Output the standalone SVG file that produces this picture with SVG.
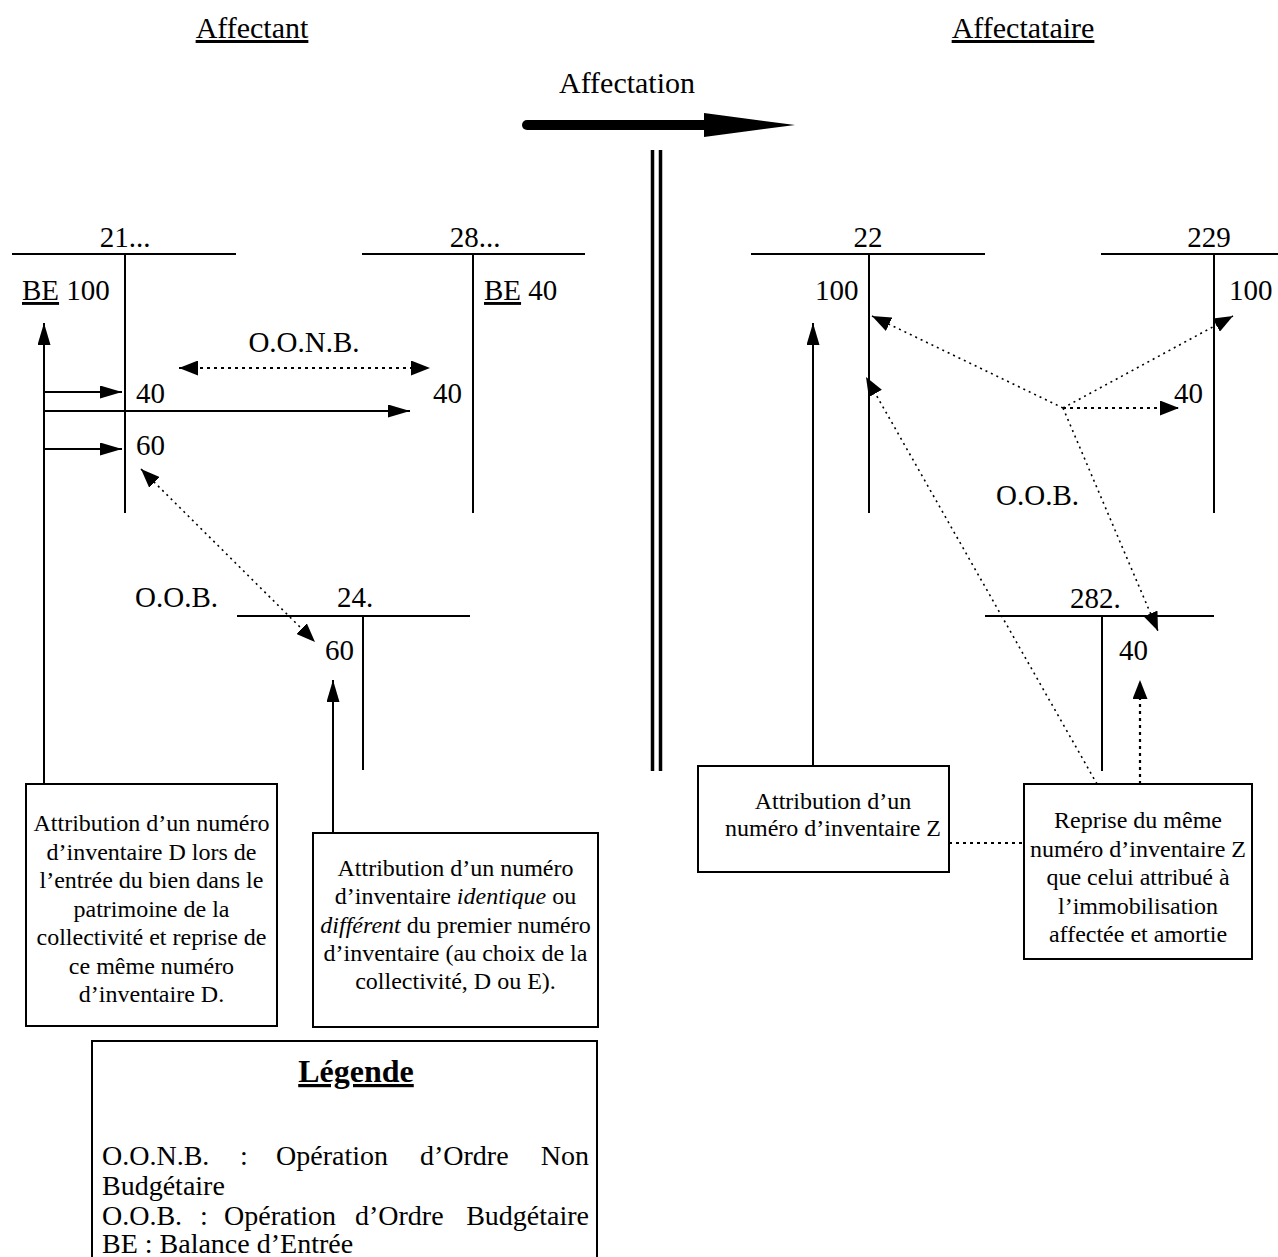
<svg xmlns="http://www.w3.org/2000/svg" width="1278" height="1257" viewBox="0 0 1278 1257">
<style>
text{font-family:"Liberation Serif","Times New Roman",serif;fill:#000}
.t{font-size:30px}
.n{font-size:29px}
.b{font-size:24px;text-anchor:middle}
.lg{font-size:28px}
.ln{stroke:#000;stroke-width:2;fill:none}
.box{stroke:#000;stroke-width:2;fill:#fff}
.sol{stroke:#000;stroke-width:2;fill:none}
.dot{stroke:#000;stroke-width:2.2;fill:none;stroke-dasharray:3 4}
.dot2{stroke:#000;stroke-width:1.6;fill:none;stroke-dasharray:2 4}
.mid{text-anchor:middle}
</style>
<defs>
<marker id="sh" viewBox="0 0 22 13" refX="22" refY="6.5" markerWidth="22" markerHeight="13" markerUnits="userSpaceOnUse" orient="auto-start-reverse"><path d="M0,0 L22,6.5 L0,13 z" fill="#000"/></marker>
<marker id="dh" viewBox="0 0 19 15" refX="19" refY="7.5" markerWidth="19" markerHeight="15" markerUnits="userSpaceOnUse" orient="auto-start-reverse"><path d="M0,0 L19,7.5 L0,15 z" fill="#000"/></marker>
</defs>

<g id="titles">
<text class="t mid" x="252" y="38" text-decoration="underline">Affectant</text>
<text class="t mid" x="1023" y="38" text-decoration="underline">Affectataire</text>
<text class="t mid" x="627" y="93">Affectation</text>
<line x1="527" y1="125" x2="708" y2="125" stroke="#000" stroke-width="10" stroke-linecap="round"/>
<polygon points="704,113 795,125 704,137" fill="#000"/>
<line x1="652.5" y1="150" x2="652.5" y2="771" stroke="#000" stroke-width="3.5"/>
<line x1="660.5" y1="150" x2="660.5" y2="771" stroke="#000" stroke-width="3.5"/>
</g>

<g id="acc21">
<line class="ln" x1="12" y1="254" x2="236" y2="254"/>
<line class="ln" x1="125" y1="254" x2="125" y2="513"/>
<text class="n mid" x="125" y="247">21...</text>
<text class="n" x="22" y="300"><tspan text-decoration="underline">BE</tspan> 100</text>
<text class="n" x="136" y="403">40</text>
<text class="n" x="136" y="455">60</text>
</g>

<g id="acc28">
<line class="ln" x1="362" y1="254" x2="585" y2="254"/>
<line class="ln" x1="473" y1="254" x2="473" y2="513"/>
<text class="n mid" x="475" y="247">28...</text>
<text class="n" x="484" y="300"><tspan text-decoration="underline">BE</tspan> 40</text>
<text class="n" x="433" y="403">40</text>
</g>

<g id="acc24">
<line class="ln" x1="237" y1="616" x2="470" y2="616"/>
<line class="ln" x1="363" y1="616" x2="363" y2="770"/>
<text class="n" x="337" y="607">24.</text>
<text class="n" x="325" y="660">60</text>
</g>

<g id="acc22">
<line class="ln" x1="751" y1="254" x2="985" y2="254"/>
<line class="ln" x1="869" y1="254" x2="869" y2="513"/>
<text class="n mid" x="868" y="247">22</text>
<text class="n" x="815" y="300">100</text>
</g>

<g id="acc229">
<line class="ln" x1="1101" y1="254" x2="1278" y2="254"/>
<line class="ln" x1="1214" y1="254" x2="1214" y2="513"/>
<text class="n mid" x="1209" y="247">229</text>
<text class="n" x="1229" y="300">100</text>
<text class="n" x="1174" y="403">40</text>
</g>

<g id="acc282">
<line class="ln" x1="985" y1="616" x2="1214" y2="616"/>
<line class="ln" x1="1102" y1="616" x2="1102" y2="771"/>
<text class="n" x="1070" y="608">282.</text>
<text class="n" x="1119" y="660">40</text>
</g>

<g id="labels">
<text class="n mid" x="304" y="352">O.O.N.B.</text>
<text class="n" x="135" y="607">O.O.B.</text>
<text class="n" x="996" y="505">O.O.B.</text>
</g>

<g id="box1">
<rect class="box" x="26" y="784" width="251" height="242"/>
<text class="b" x="151.5" y="831">Attribution d’un numéro</text>
<text class="b" x="151.5" y="859.5">d’inventaire D lors de</text>
<text class="b" x="151.5" y="888">l’entrée du bien dans le</text>
<text class="b" x="151.5" y="916.5">patrimoine de la</text>
<text class="b" x="151.5" y="945">collectivité et reprise de</text>
<text class="b" x="151.5" y="973.5">ce même numéro</text>
<text class="b" x="151.5" y="1002">d’inventaire D.</text>
</g>

<g id="box2">
<rect class="box" x="313" y="833" width="285" height="194"/>
<text class="b" x="455.5" y="876">Attribution d’un numéro</text>
<text class="b" x="455.5" y="904.3">d’inventaire <tspan font-style="italic">identique</tspan> ou</text>
<text class="b" x="455.5" y="932.6"><tspan font-style="italic">différent</tspan> du premier numéro</text>
<text class="b" x="455.5" y="960.9">d’inventaire (au choix de la</text>
<text class="b" x="455.5" y="989.2">collectivité, D ou E).</text>
</g>

<g id="boxZ">
<rect class="box" x="698" y="766" width="251" height="106"/>
<text class="b" x="833" y="809">Attribution d’un</text>
<text class="b" x="833" y="836">numéro d’inventaire Z</text>
</g>

<g id="boxReprise">
<rect class="box" x="1024" y="784" width="228" height="175"/>
<text class="b" x="1138" y="828">Reprise du même</text>
<text class="b" x="1138" y="856.5">numéro d’inventaire Z</text>
<text class="b" x="1138" y="885">que celui attribué à</text>
<text class="b" x="1138" y="913.5">l’immobilisation</text>
<text class="b" x="1138" y="942">affectée et amortie</text>
</g>

<g id="legend">
<rect class="box" x="92" y="1041" width="505" height="240"/>
<text class="mid" x="356" y="1082" font-size="32" font-weight="bold" text-decoration="underline">Légende</text>
<text class="lg" x="102" y="1165">O.O.N.B.</text>
<text class="lg" x="240" y="1165">:</text>
<text class="lg" x="276" y="1165">Opération</text>
<text class="lg" x="420" y="1165">d’Ordre</text>
<text class="lg" x="589" y="1165" text-anchor="end">Non</text>
<text class="lg" x="102" y="1195">Budgétaire</text>
<text class="lg" x="102" y="1225">O.O.B.</text>
<text class="lg" x="200" y="1225">:</text>
<text class="lg" x="224" y="1225">Opération</text>
<text class="lg" x="355" y="1225">d’Ordre</text>
<text class="lg" x="589" y="1225" text-anchor="end">Budgétaire</text>
<text class="lg" x="102" y="1253">BE : Balance d’Entrée</text>
</g>

<g id="connectors">
<line class="sol" x1="44" y1="784" x2="44" y2="323" marker-end="url(#sh)"/>
<line class="sol" x1="44" y1="392" x2="122" y2="392" marker-end="url(#sh)"/>
<line class="sol" x1="44" y1="411" x2="410" y2="411" marker-end="url(#sh)"/>
<line class="sol" x1="44" y1="449" x2="122" y2="449" marker-end="url(#sh)"/>
<line class="sol" x1="333" y1="833" x2="333" y2="680" marker-end="url(#sh)"/>
<line class="sol" x1="813" y1="766" x2="813" y2="323" marker-end="url(#sh)"/>
<line class="dot" x1="179" y1="368" x2="430" y2="368" marker-start="url(#dh)" marker-end="url(#dh)"/>
<line class="dot2" x1="141" y1="469" x2="315" y2="642" marker-start="url(#dh)" marker-end="url(#dh)"/>
<line class="dot2" x1="1063" y1="408" x2="872" y2="316" marker-end="url(#dh)"/>
<line class="dot2" x1="1063" y1="408" x2="1233" y2="316" marker-end="url(#dh)"/>
<line class="dot" x1="1063" y1="408" x2="1179" y2="408" marker-end="url(#dh)"/>
<line class="dot2" x1="1063" y1="408" x2="1158" y2="631" marker-end="url(#dh)"/>
<line class="dot2" x1="1097" y1="784" x2="866" y2="377" marker-end="url(#dh)"/>
<line class="dot" x1="1140" y1="784" x2="1140" y2="680" marker-end="url(#dh)"/>
<line class="dot" x1="949" y1="843" x2="1024" y2="843"/>
</g>
</svg>
